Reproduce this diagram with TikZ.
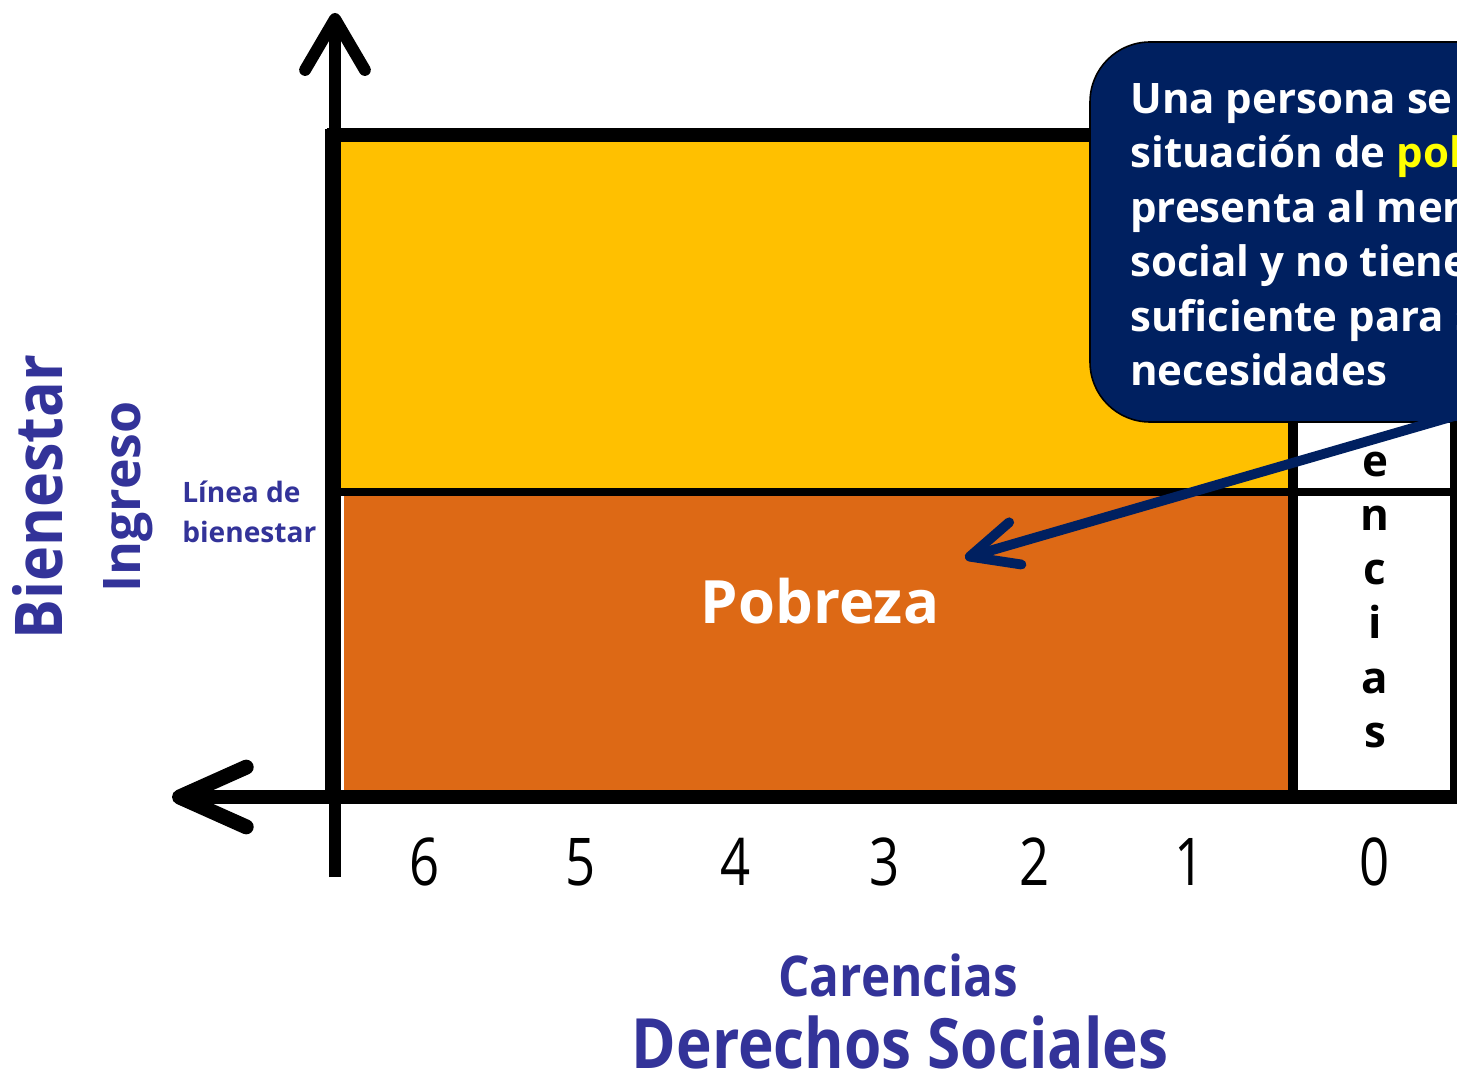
\documentclass[tikz,border=0pt]{standalone}
\usepackage{fontspec}
\setmainfont{Open Sans}
\usetikzlibrary{arrows.meta}
\definecolor{amarillo}{HTML}{FFC000}
\definecolor{naranja}{HTML}{DD6915}
\definecolor{marino}{HTML}{002060}
\definecolor{morado}{HTML}{333399}
\definecolor{amarillotexto}{HTML}{FFFF00}
\begin{document}
\begin{tikzpicture}[x=0.02cm,y=-0.02cm,
  blackline/.style={black,line width=#1},
  axisline/.style={black,line width=6.8pt},
  callbox/.style={fill=marino,draw=black,line width=0.9pt,rounded corners=1.2cm},
  calltext/.style={text=white,font=\fontsize{23.9}{31}\selectfont\bfseries,align=left,inner sep=0pt,anchor=north west},
  numlabel/.style={font=\fontsize{37.5}{44}\selectfont,anchor=base,inner sep=0pt},
  vletter/.style={font=\fontsize{25}{30}\selectfont\bfseries,anchor=base,inner sep=0pt},
  purplelabel/.style={text=morado,inner sep=0pt,anchor=base},
  pointer/.style={marino,line width=5.6pt,-{Straight Barb[length=27pt,width=25pt,round]}}
]
\useasboundingbox (0,0) rectangle (1457,1074);
\clip (0,0) rectangle (1457,1074);

% fills
\fill[amarillo] (338,138) rectangle (1292,490);
\fill[naranja] (344,494) rectangle (1292,794);

% frame lines
\draw[blackline=8pt] (327,135) -- (1480,135);
\draw[blackline=8pt] (1457,135) -- (1457,797);
\draw[blackline=5.7pt] (1293,135) -- (1293,797);
\draw[blackline=5.1pt] (338,492) -- (1457,492);
\draw[blackline=9pt] (333,129) -- (333,797);

% axes
\draw[axisline,-{Straight Barb[length=29pt,width=34pt,round]}] (335,877) -- (335,13);
\draw[axisline,line width=8.5pt,-{Straight Barb[length=38pt,width=34pt,round]}] (1480,797) -- (172,797);

% vertical word in white column (visible letters)
\foreach \ch [count=\k] in {e,n,c,i,a,s}{
  \node[vletter] (v\k) at (1375,{476+54.25*(\k-1)}) {\ch};
}

% Pobreza
\node[text=white,font=\fontsize{34}{40}\selectfont\bfseries,anchor=base,inner sep=0pt] (pobreza) at (820,623) {Pobreza};

% numbers
\node[numlabel] (n6) at (425,885) {\scalebox{0.8}[1]{6}};
\node[numlabel] (n5) at (581,885) {\scalebox{0.8}[1]{5}};
\node[numlabel] (n4) at (736,885) {\scalebox{0.8}[1]{4}};
\node[numlabel] (n3) at (885,885) {\scalebox{0.8}[1]{3}};
\node[numlabel] (n2) at (1035,885) {\scalebox{0.8}[1]{2}};
\node[numlabel] (n1) at (1190,885) {\scalebox{0.8}[1]{1}};
\node[numlabel] (n0) at (1375,885) {\scalebox{0.8}[1]{0}};

% bottom labels
\node[purplelabel,font=\fontsize{32}{38}\selectfont\bfseries] (carencias) at (898,996) {\scalebox{0.88}[1]{Carencias}};
\node[purplelabel,font=\fontsize{39.5}{46}\selectfont\bfseries] (derechos) at (900,1068) {\scalebox{0.87}[1]{Derechos Sociales}};

% left labels
\node[purplelabel,font=\fontsize{37.5}{44}\selectfont\bfseries,rotate=90] (bienestar) at (62,497) {\scalebox{0.9}[1]{Bienestar}};
\node[purplelabel,font=\fontsize{29.5}{34}\selectfont\bfseries,rotate=90] (ingreso) at (140,497) {\scalebox{1.0}[1]{Ingreso}};
\node[purplelabel,font=\fontsize{16}{22}\selectfont\bfseries,anchor=base west] (linea1) at (182,502) {Línea de};
\node[purplelabel,font=\fontsize{16}{22}\selectfont\bfseries,anchor=base west] (linea2) at (182,542) {bienestar};

% callout
\draw[callbox] (1090,42) rectangle (1700,422);
\node[calltext] (callout) at (1130,83) {Una persona se encuentra en\\
situación de \textcolor{amarillotexto}{pobreza} cuando\\
presenta al menos una carencia\\
social y no tiene un ingreso\\
suficiente para satisfacer sus\\
necesidades};

% pointer
\coordinate (from) at (1530,394);
\coordinate (target) at (965,558);
\draw[pointer] (from) -- (target);
\end{tikzpicture}
\end{document}
